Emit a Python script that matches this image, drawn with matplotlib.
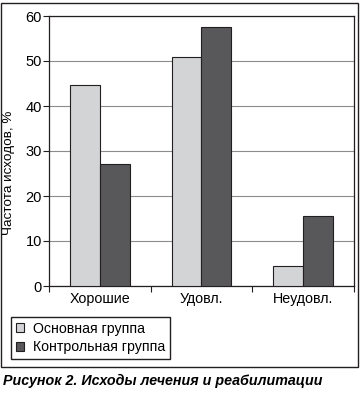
import numpy as np
import matplotlib
matplotlib.use('Agg')
import matplotlib.pyplot as plt
from matplotlib.patches import Rectangle

plt.rcParams['font.family'] = ['Liberation Sans', 'DejaVu Sans']

categories = ['Хорошие', 'Удовл.', 'Неудовл.']
series_names = ['Основная группа', 'Контрольная группа']
main_group = [44.7, 50.8, 4.4]
control_group = [27.1, 57.5, 15.5]
yticks = [0, 10, 20, 30, 40, 50, 60]

col_main = '#d3d4d6'
col_ctrl = '#58585a'
col_edge = '#231f20'

fig = plt.figure(figsize=(3.6, 3.95), dpi=100)
ax = fig.add_axes([49/360, 109/395, 305/360, 270/395])

x = np.arange(len(categories))
w = 0.295
ax.bar(x - w/2, main_group, w, color=col_main, edgecolor=col_edge, linewidth=0.8,
       label=series_names[0], zorder=3)
ax.bar(x + w/2, control_group, w, color=col_ctrl, edgecolor=col_edge, linewidth=0.8,
       label=series_names[1], zorder=3)

ax.set_xlim(-0.5, 2.5)
ax.set_ylim(0, 60)
ax.set_yticks(yticks)
ax.set_yticklabels([str(v) for v in yticks], fontsize=10.5)
ax.set_xticks(x)
ax.set_xticklabels(categories, fontsize=10.3)
ax.tick_params(axis='x', length=0, pad=4)
ax.set_xticks([-0.5, 0.5, 1.5, 2.5], minor=True)
ax.tick_params(axis='x', which='minor', length=4, width=0.8, color=col_edge)
ax.tick_params(axis='y', length=4, width=0.8, color=col_edge, pad=1)
ax.yaxis.grid(True, color='#8c8c8c', linewidth=0.8, zorder=0)
ax.set_axisbelow(True)
for s in ax.spines.values():
    s.set_color(col_edge)
    s.set_linewidth(0.9)

fig.text(9/360, 1 - 173/395, 'Частота исходов, %', fontsize=9.7, rotation=90,
         ha='center', va='center')

fig.legend(loc='upper left', bbox_to_anchor=(11/360, 1 - 317/395), fontsize=10.2,
           frameon=True, fancybox=False, edgecolor=col_edge, framealpha=1,
           handlelength=0.6, handleheight=0.6, handletextpad=0.6,
           borderpad=0.35, labelspacing=0.3, borderaxespad=0)

fig.patches.append(Rectangle((1/360, 1 - 367/395), 357/360, 364/395,
                             transform=fig.transFigure, fill=False,
                             edgecolor=col_edge, linewidth=1.0))

fig.text(3/360, 1 - 381/395, 'Рисунок 2. Исходы лечения и реабилитации',
         fontsize=10.3, fontweight='bold', fontstyle='italic', va='center', ha='left')

fig.savefig('out.png', dpi=100)
